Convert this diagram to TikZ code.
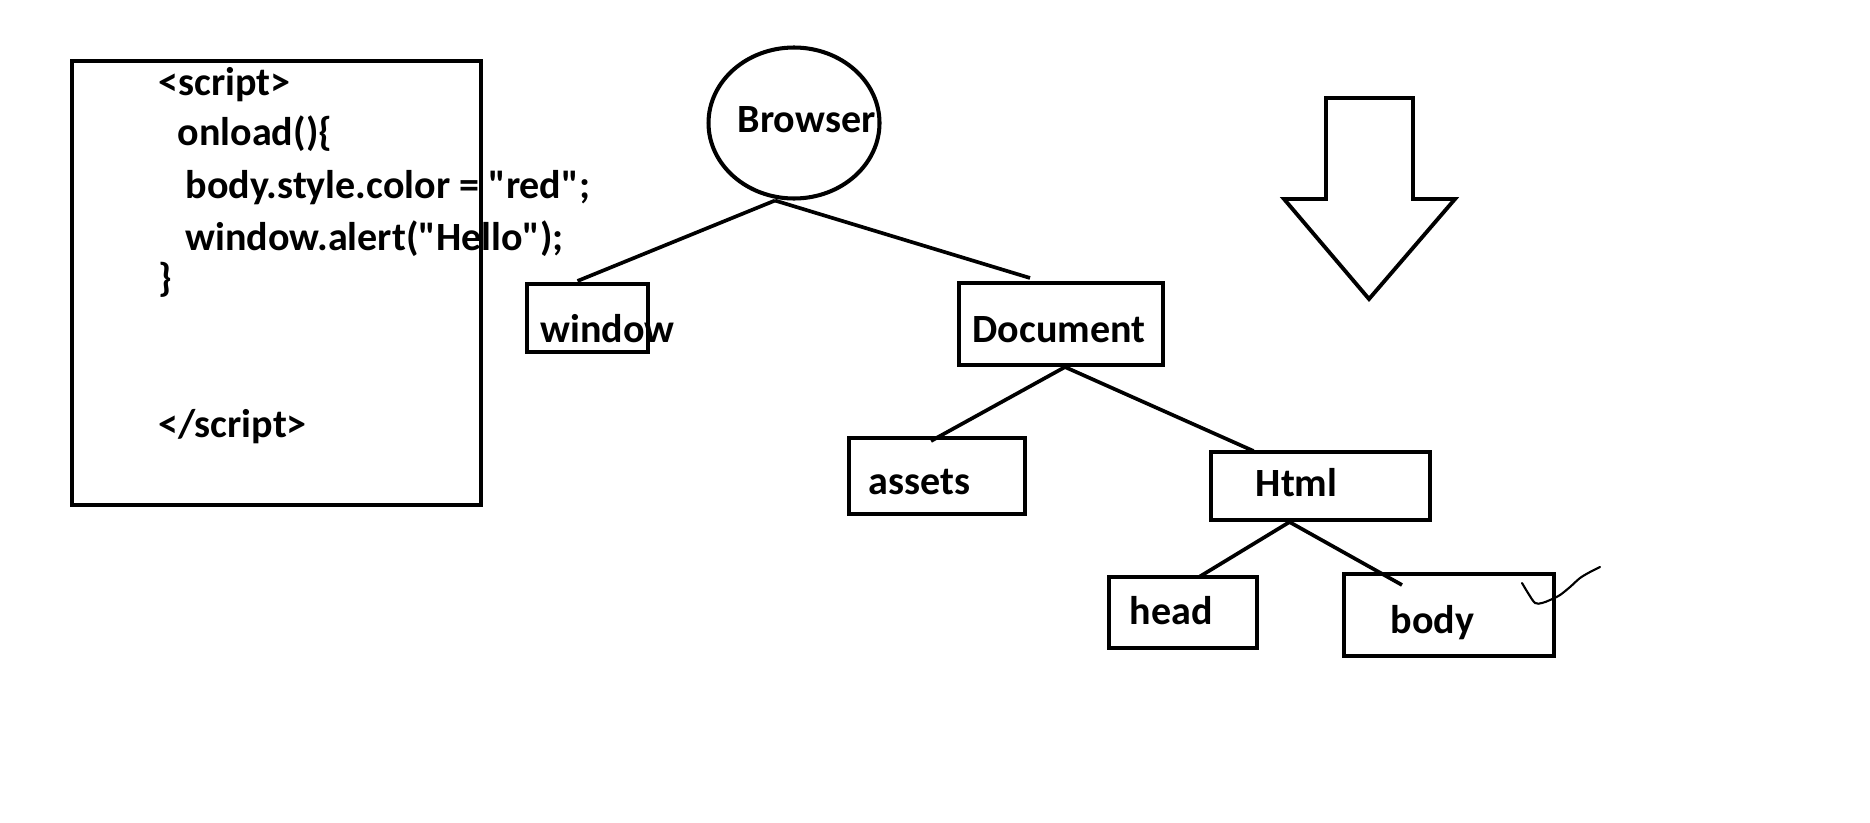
\documentclass[tikz,border=0pt]{standalone}
\usepackage{fontspec}
\setmainfont{Carlito}[Ligatures=TeXOff]
\usetikzlibrary{calc}
\usetikzlibrary{positioning}
\usetikzlibrary{shapes.geometric}

\begin{document}
\begin{tikzpicture}[x=0.1mm, y=-0.1mm,
		box/.style={draw, line width=1.15pt, inner sep=0pt},
		lbl/.style={anchor=base west, inner sep=0pt, font=\fontsize{11.4}{13}\selectfont\bfseries},
		edge/.style={line width=1.05pt}]
		\useasboundingbox (0,0) rectangle (1870,822);

		% code box
		\node[box, minimum width=40.9mm, minimum height=44.4mm](codebox) at (276.5,283) {};
		\node[lbl](codeA) at (158,95) {<script>};
		\node[lbl](codeB) at (177,145) {onload()\{};
		\node[lbl](codeC) at (185,198) {body.style.color = "red";};
		\node[lbl](codeD) at (185,250) {window.alert("Hello");};
		\node[lbl](codeE) at (158,291) {\}};
		\node[lbl](codeF) at (158,437) {</script>};

		% tree
		\node[box, ellipse, minimum width=17.1mm, minimum height=15.1mm](browser) at (794,123) {};
		\node[lbl](browsertxt) at (737,132) {Browser};
		\node[box, minimum width=12.1mm, minimum height=6.8mm](window) at (587.5,318) {};
		\node[lbl](windowtxt) at (540,342) {window};
		\node[box, minimum width=20.4mm, minimum height=8.2mm](document) at (1061,324) {};
		\node[lbl](documenttxt) at (972,342) {Document};
		\node[box, minimum width=17.6mm, minimum height=7.6mm](assets) at (937,476) {};
		\node[lbl](assetstxt) at (868,494) {assets};
		\node[box, minimum width=21.9mm, minimum height=6.8mm](html) at (1320.5,486) {};
		\node[lbl](htmltxt) at (1255,496) {Html};
		\node[box, minimum width=14.8mm, minimum height=7.1mm](head) at (1183,612.5) {};
		\node[lbl](headtxt) at (1129,624) {head};
		\node[box, minimum width=21mm, minimum height=8.2mm](body) at (1449,615) {};
		\node[lbl](bodytxt) at (1390,633) {body};

		\draw[edge] ($(browser.south)+(-19,0)$) -- ($(window.north)+(-10,-1)$);
		\draw[edge] ($(browser.south)+(-19,0)$) -- ($(document.north)+(-31,-3)$);
		\draw[edge] ($(document.south)+(4,0)$) -- ($(assets.north)+(-6,5)$);
		\draw[edge] ($(document.south)+(4,0)$) -- ($(html.north)+(-67,1)$);
		\draw[edge] ($(html.south)+(-31,0)$) -- ($(head.north)+(16,2)$);
		\draw[edge] ($(html.south)+(-31,0)$) -- ($(body.north)+(-47,13)$);

		% big arrow
		\draw[line width=1.1pt] (1326,98) -- (1413,98) -- (1413,199) -- (1455,199) -- (1369,299) -- (1284,199) -- (1326,199) -- cycle;

		% tick
		\draw[line width=0.6pt, line cap=round] plot[smooth] coordinates {(1522,583) (1528,593) (1535,603) (1542,603) (1550,600) (1560,595) (1570,587) (1580,578) (1590,572) (1600,567)};
\end{tikzpicture}
\end{document}
